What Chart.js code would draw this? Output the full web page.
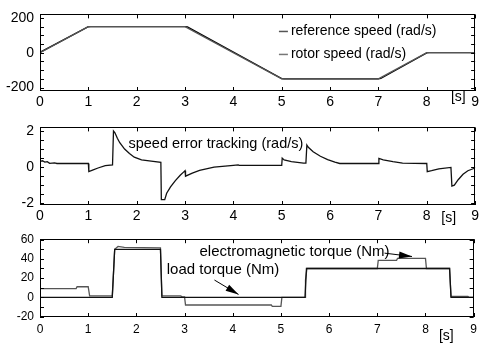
<!DOCTYPE html>
<html>
<head>
<meta charset="utf-8">
<script src="https://cdn.jsdelivr.net/npm/chart.js@4.4.0/dist/chart.umd.min.js"></script>
<style>
  html, body { margin: 0; padding: 0; background: #fff; }
  #wrap { position: relative; width: 482px; height: 343px; }
  canvas { position: absolute; left: 0; }
</style>
</head>
<body>
<div id="wrap">
  <canvas id="speedChart" width="482" height="113" style="top:0px"></canvas>
  <canvas id="errorChart" width="482" height="113" style="top:113px"></canvas>
  <canvas id="torqueChart" width="482" height="117" style="top:226px"></canvas>
</div>
<script>
// Eixo do tempo [s]
const timeMin = 0;
const timeMax = 9;

// Velocidade de referência e do rotor (rad/s)
const refTime = [0, 1, 3, 5, 7, 8, 9];
const refSpeed = [0, 150, 150, -150, -150, 0, 0];
const rotorTime = [0, 1, 1.05, 3, 3.05, 5, 5.05, 7, 7.05, 8, 8.05, 9];
const rotorSpeed = [2, 149, 150, 150, 148, -149, -150, -150, -148, -1, 0, 0];

// Erro de rastreamento da velocidade (rad/s)
const errTime = [0, 0.05, 0.1, 0.15, 0.2, 0.3, 0.35, 1.0, 1.01, 1.1, 1.2, 1.35, 1.5,
  1.52, 1.55, 1.6, 1.65, 1.75, 1.85, 1.95, 2.1, 2.3, 2.5,
  2.51, 2.58, 2.62, 2.7, 2.8, 2.9, 2.98, 3.0, 3.01, 3.15, 3.3, 3.6, 4.0, 4.1, 4.12, 5.0,
  5.01, 5.05, 5.2, 5.45, 5.5, 5.52, 5.55, 5.65, 5.8, 5.95, 6.1, 6.2, 7.0,
  7.01, 7.1, 7.3, 7.5, 8.0, 8.01, 8.1, 8.25, 8.5, 8.52, 8.57, 8.65, 8.75, 8.85, 9.0];
const errValue = [0.32, 0.35, 0.28, 0.3, 0.21, 0.23, 0.2, 0.2, -0.25, -0.15, -0.05, 0.08, 0.12,
  2.0, 1.9, 1.6, 1.35, 1.0, 0.75, 0.55, 0.4, 0.33, 0.27,
  -1.8, -1.8, -1.45, -1.1, -0.75, -0.45, -0.25, -0.2, -0.5, -0.33, -0.18, 0.0, 0.1, 0.12, 0.1, 0.1,
  0.5, 0.4, 0.3, 0.22, 0.22, 1.22, 1.1, 0.85, 0.6, 0.42, 0.28, 0.2, 0.2,
  0.48, 0.4, 0.3, 0.22, 0.2, -0.25, -0.2, -0.1, -0.02, -1.05, -1.0, -0.7, -0.4, -0.2, -0.05];

// Torque eletromagnético e de carga (Nm)
const emTime = [0, 0.75, 0.77, 1.0, 1.03, 1.5, 1.52, 1.55, 1.62, 1.75, 2.5, 2.53, 2.92, 2.95, 3.0,
  3.02, 4.8, 4.82, 5.0, 5.02, 5.5, 5.51, 5.54, 7.0, 7.02, 7.4, 7.42, 8.0, 8.02, 8.5, 8.53, 8.88, 8.9, 9];
const emTorque = [9, 9, 11, 11, 1.5, 1.5, 20, 50, 53, 52, 51.5, 1.5, 1.5, 0.5, 0.5,
  -8, -8, -9.5, -9.5, 0, 0, 18, 30, 30, 38.5, 38.5, 40.5, 40.5, 30, 30, 1, 1, 0, 0];
const loadTime = [0, 1.5, 1.55, 2.5, 2.53, 5.5, 5.53, 8.5, 8.53, 9];
const loadTorque = [0, 0, 50, 50, 0, 0, 30, 30, 0, 0];

const pts = (xs, ys) => xs.map((x, i) => ({ x: x, y: ys[i] }));

const fontFamily = '"Liberation Sans", Arial, Helvetica, sans-serif';

// Moldura, marcas internas e textos
const framePlugin = {
  id: 'frame',
  afterDraw(chart, args, opts) {
    const ctx = chart.ctx;
    const a = chart.chartArea;
    const x = chart.scales.x;
    const y = chart.scales.y;
    ctx.save();
    ctx.strokeStyle = '#000';
    ctx.lineWidth = 1;
    ctx.strokeRect(Math.round(a.left) + 0.5, Math.round(a.top) + 0.5,
      Math.round(a.right - a.left) - 1, Math.round(a.bottom - a.top) - 1);
    ctx.beginPath();
    x.ticks.forEach(t => {
      const px = Math.round(x.getPixelForValue(t.value)) + 0.5;
      ctx.moveTo(px, a.bottom); ctx.lineTo(px, a.bottom - 4);
      ctx.moveTo(px, a.top); ctx.lineTo(px, a.top + 4);
    });
    y.ticks.forEach(t => {
      const py = Math.round(y.getPixelForValue(t.value)) + 0.5;
      ctx.moveTo(a.left, py); ctx.lineTo(a.left + 4, py);
      ctx.moveTo(a.right, py); ctx.lineTo(a.right - 4, py);
    });
    ctx.stroke();

    ctx.fillStyle = '#000';
    ctx.textBaseline = 'middle';
    (opts.notes || []).forEach(n => {
      const px = x.getPixelForValue(n.t);
      const py = n.v !== undefined ? y.getPixelForValue(n.v) : a.bottom + n.dy;
      ctx.font = (n.size || 14) + 'px ' + fontFamily;
      if (n.line) {
        ctx.strokeStyle = n.line;
        ctx.lineWidth = 1.5;
        ctx.beginPath();
        ctx.moveTo(px - 12, py); ctx.lineTo(px - 3, py);
        ctx.stroke();
      }
      ctx.fillText(n.text, px, py);
    });
    (opts.arrows || []).forEach(ar => {
      const x0 = x.getPixelForValue(ar.t0), y0 = y.getPixelForValue(ar.v0);
      const x1 = x.getPixelForValue(ar.t1), y1 = y.getPixelForValue(ar.v1);
      const ang = Math.atan2(y1 - y0, x1 - x0);
      ctx.strokeStyle = '#000';
      ctx.lineWidth = 1;
      ctx.beginPath();
      ctx.moveTo(x0, y0); ctx.lineTo(x1, y1);
      ctx.stroke();
      ctx.beginPath();
      ctx.moveTo(x1, y1);
      ctx.lineTo(x1 - 13 * Math.cos(ang) + 3.5 * Math.sin(ang), y1 - 13 * Math.sin(ang) - 3.5 * Math.cos(ang));
      ctx.lineTo(x1 - 13 * Math.cos(ang) - 3.5 * Math.sin(ang), y1 - 13 * Math.sin(ang) + 3.5 * Math.cos(ang));
      ctx.closePath();
      ctx.fill();
    });
    ctx.restore();
  }
};

function makeChart(id, datasets, yCfg, xHeight, fontSize, frameOpts) {
  const ctx = document.getElementById(id).getContext('2d');
  return new Chart(ctx, {
    type: 'line',
    data: { datasets: datasets },
    options: {
      responsive: false,
      devicePixelRatio: 1,
      animation: false,
      layout: { padding: { top: 11, right: 5, left: 0, bottom: 0 } },
      elements: { point: { radius: 0 }, line: { tension: 0, borderWidth: 1.3 } },
      plugins: { legend: { display: false }, tooltip: { enabled: false }, frame: frameOpts },
      scales: {
        x: {
          type: 'linear',
          min: timeMin,
          max: timeMax,
          grid: { display: false, drawTicks: false },
          border: { display: false },
          ticks: { stepSize: 1, padding: frameOpts.xPad, maxRotation: 0, autoSkip: false, color: '#000',
            font: { family: fontFamily, size: fontSize } },
          afterFit: s => { s.height = xHeight; }
        },
        y: {
          min: yCfg.min,
          max: yCfg.max,
          grid: { display: false, drawTicks: false },
          border: { display: false },
          ticks: {
            stepSize: yCfg.step,
            includeBounds: false,
            autoSkip: false,
            padding: 6,
            color: '#000',
            font: { family: fontFamily, size: fontSize },
            callback: v => Math.abs(v / yCfg.label - Math.round(v / yCfg.label)) < 1e-6 ? String(Math.round(v * 10) / 10) : ''
          },
          afterFit: s => { s.width = 40; }
        }
      }
    },
    plugins: [framePlugin]
  });
}

makeChart('speedChart', [
  { data: pts(refTime, refSpeed), borderColor: '#555' },
  { data: pts(rotorTime, rotorSpeed), borderColor: '#000' }
], { min: -220, max: 220, step: 50, label: 200 }, 22, 14, {
  xPad: 3,
  notes: [
    { t: 5.19, v: 122, text: 'reference speed (rad/s)', line: '#555', size: 14 },
    { t: 5.19, v: -10, text: 'rotor speed (rad/s)', line: '#777', size: 14 },
    { t: 8.5, dy: 6, text: '[s]', size: 14 }
  ]
});

makeChart('errorChart', [
  { data: pts(errTime, errValue), borderColor: '#111' }
], { min: -2.1, max: 2.2, step: 0.5, label: 2 }, 21, 14, {
  xPad: 3,
  notes: [
    { t: 1.83, v: 1.26, text: 'speed error tracking (rad/s)', size: 14.5 },
    { t: 8.3, dy: 13, text: '[s]', size: 14 }
  ]
});

makeChart('torqueChart', [
  { data: pts(loadTime, loadTorque), borderColor: '#111' },
  { data: pts(emTime, emTorque), borderColor: '#555' }
], { min: -20.5, max: 60.5, step: 10, label: 20 }, 26, 12, {
  xPad: 5,
  notes: [
    { t: 3.31, v: 47, text: 'electromagnetic torque (Nm)', size: 15 },
    { t: 2.63, v: 28.5, text: 'load torque (Nm)', size: 15 },
    { t: 8.28, dy: 19, text: '[s]', size: 14 }
  ],
  arrows: [
    { t0: 7.15, v0: 46, t1: 7.72, v1: 42.5 },
    { t0: 3.62, v0: 18, t1: 4.12, v1: 3 }
  ]
});
</script>
</body>
</html>
